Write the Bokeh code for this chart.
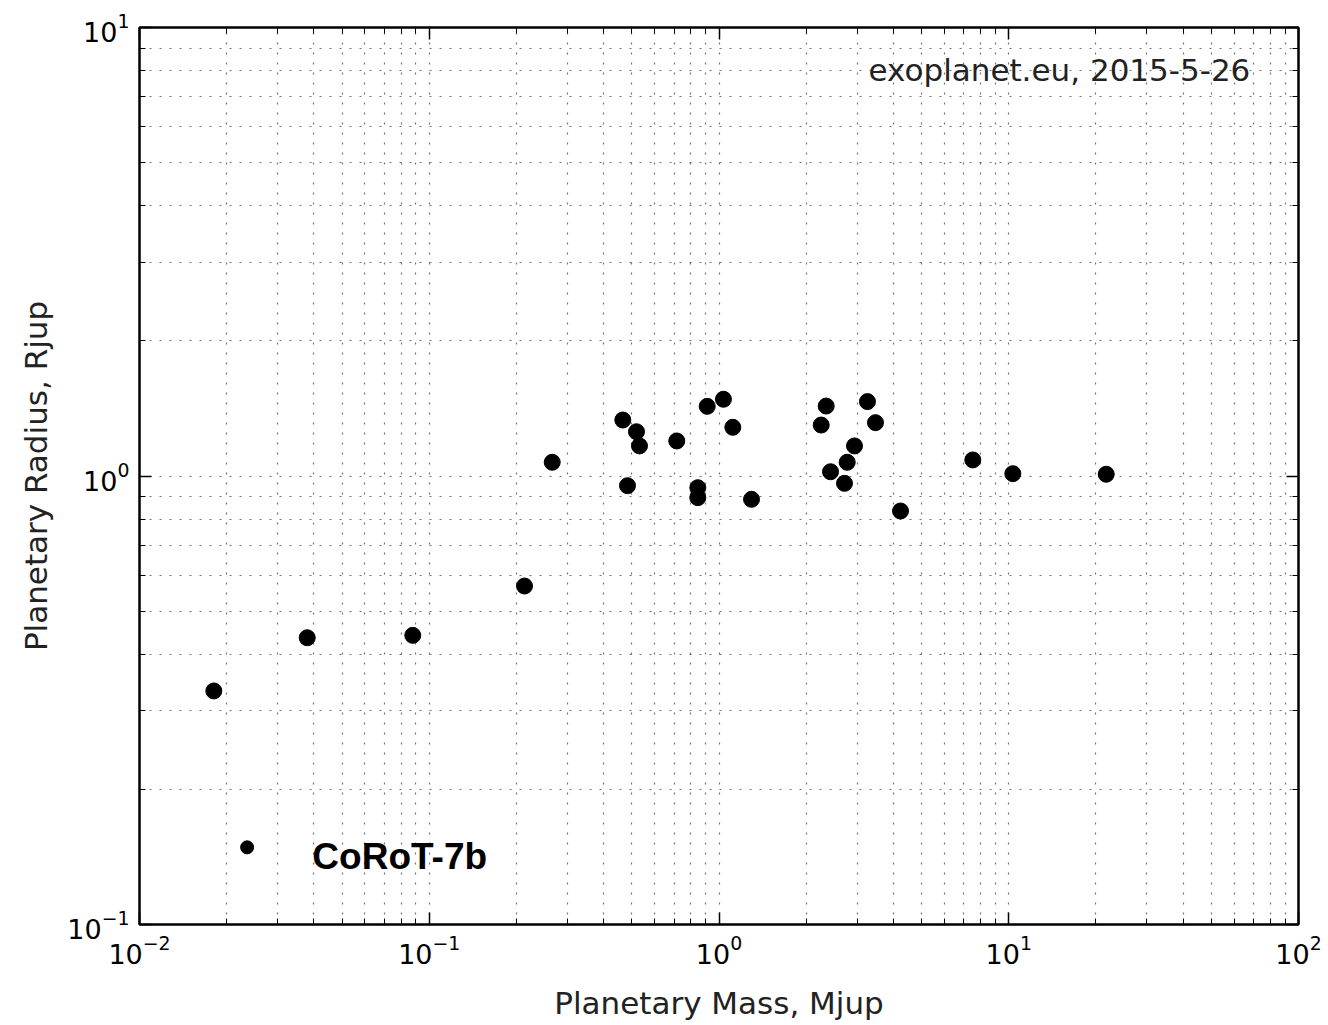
from bokeh.plotting import figure
from bokeh.models import Range1d, LogAxis, FixedTicker, LogTickFormatter, Label, ColumnDataSource, CustomJSTickFormatter
from bokeh.embed import file_html
from bokeh.resources import INLINE

# Planetary mass (Mjup) and radius (Rjup)
mass = [0.01805, 0.03792, 0.08773, 0.2132, 0.2657, 0.4656, 0.5191, 0.5316, 0.4833,
        0.7149, 0.9106, 1.036, 1.116, 0.845, 0.845, 1.295, 2.344, 2.253, 3.254,
        3.468, 2.935, 2.770, 2.426, 2.711, 4.231, 7.515, 10.33, 21.70]
radius = [0.3317, 0.4359, 0.4413, 0.5684, 1.073, 1.333, 1.255, 1.167, 0.9514,
          1.197, 1.430, 1.483, 1.284, 0.9417, 0.8947, 0.8871, 1.432, 1.299, 1.465,
          1.315, 1.167, 1.073, 1.022, 0.963, 0.8355, 1.086, 1.012, 1.009]

# CoRoT-7b, highlighted planet
corot_name = "CoRoT-7b"
corot_mass = [0.02352]
corot_radius = [0.1486]

x_major = [0.01, 0.1, 1, 10, 100]
y_major = [0.1, 1, 10]
x_minor = [m * 10.0 ** e for e in range(-2, 2) for m in range(2, 10)]
y_minor = [m * 10.0 ** e for e in range(-1, 1) for m in range(2, 10)]

source_text = "exoplanet.eu, 2015-5-26"
x_label = "Planetary Mass, Mjup"
y_label = "Planetary Radius, Rjup"

FONT = "DejaVu Sans"

p = figure(width=1328, height=1025, x_axis_type="log", y_axis_type="log",
           x_range=Range1d(0.01, 100), y_range=Range1d(0.1, 10),
           output_backend="svg", toolbar_location=None,
           min_border_left=139, min_border_right=30, min_border_top=27, min_border_bottom=101,
           background_fill_color="white", border_fill_color="white")

p.outline_line_color = "black"
p.outline_line_width = 2

xt = FixedTicker(ticks=x_major, minor_ticks=x_minor)
yt = FixedTicker(ticks=y_major, minor_ticks=y_minor)

for ax, t in ((p.xaxis[0], xt), (p.yaxis[0], yt)):
    ax.ticker = t
    ax.formatter = LogTickFormatter()
    ax.major_label_text_font = FONT
    ax.major_label_text_font_size = "27px"
    ax.major_label_text_color = "black"
    ax.axis_label_text_font = FONT
    ax.axis_label_text_font_size = "31px"
    ax.axis_label_text_font_style = "normal"
    ax.axis_label_text_color = "#222222"
    ax.major_tick_in = 12
    ax.major_tick_out = 0
    ax.minor_tick_in = 6
    ax.minor_tick_out = 0
    ax.axis_line_width = 2
    ax.major_tick_line_width = 1.5
    ax.minor_tick_line_width = 1

p.xaxis[0].axis_label = x_label
p.yaxis[0].axis_label = y_label
p.xaxis[0].major_label_standoff = 10
p.xaxis[0].axis_label_standoff = 18
p.yaxis[0].major_label_standoff = 10
p.yaxis[0].axis_label_standoff = 10

# mirrored axes (ticks only) on top and right
for loc, t in (("above", xt), ("right", yt)):
    a = LogAxis(ticker=t, formatter=CustomJSTickFormatter(code="return ' '"),
                major_label_text_font_size="2px", major_label_text_alpha=0,
                major_tick_in=12, major_tick_out=0,
                minor_tick_in=6, minor_tick_out=0, axis_line_width=2,
                major_tick_line_width=1.5, minor_tick_line_width=1,
                major_label_standoff=0)
    p.add_layout(a, loc)

for g, t in ((p.xgrid[0], xt), (p.ygrid[0], yt)):
    g.ticker = t
    g.grid_line_color = "black"
    g.grid_line_alpha = 0.55
    g.grid_line_dash = "2 8"
    g.grid_line_width = 1.2
    g.minor_grid_line_color = "black"
    g.minor_grid_line_alpha = 0.55
    g.minor_grid_line_dash = "2 8"
    g.minor_grid_line_width = 1.2

src = ColumnDataSource(dict(x=mass, y=radius))
p.scatter("x", "y", source=src, size=16, color="black")
p.scatter(corot_mass, corot_radius, size=13, color="black")

p.add_layout(Label(x=0.0395, y=0.1416, text=corot_name, text_font="Liberation Sans",
                   text_font_style="bold", text_font_size="37px", text_color="black",
                   text_baseline="alphabetic", text_align="left"))
p.add_layout(Label(x=68.2, y=8.04, text=source_text, text_font=FONT,
                   text_font_size="31px", text_color="#222222",
                   text_baseline="alphabetic", text_align="right"))

open("out.html", "w").write(file_html(p, INLINE))
